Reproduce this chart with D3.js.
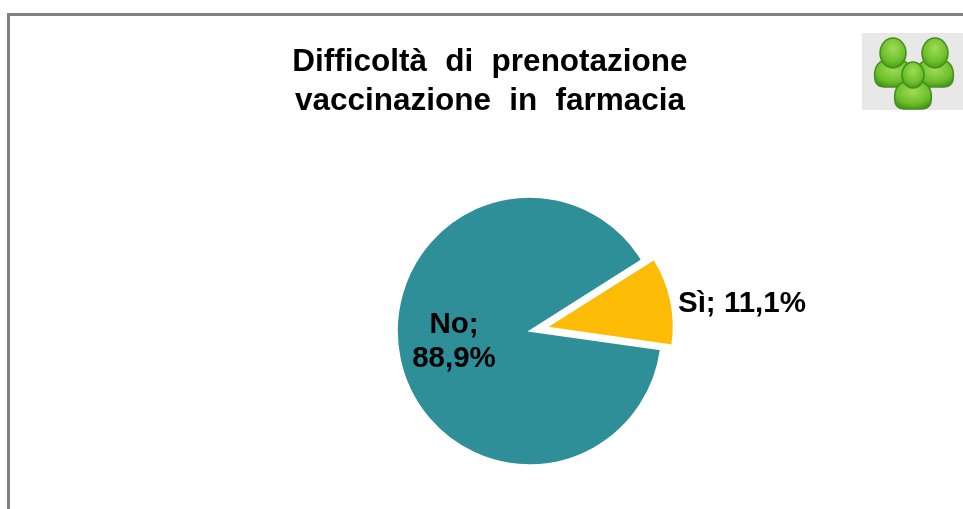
<!DOCTYPE html>
<html>
<head>
<meta charset="utf-8">
<script src="https://cdn.jsdelivr.net/npm/d3@7"></script>
<style>
  html, body { margin: 0; padding: 0; background: #fff; overflow: hidden; }
  text { font-family: "Liberation Sans", Arial, sans-serif; font-weight: bold; fill: #000; }
</style>
</head>
<body>
<svg id="chart" width="963" height="509" viewBox="0 0 963 509"></svg>
<script>
const categories = ["Sì", "No"];
const values = [11.1, 88.9];
const colors = ["#fcbc05", "#2e8f99"];
const title_lines = ["Difficoltà di prenotazione", "vaccinazione in farmacia"];

const svg = d3.select("#chart");
const defs = svg.append("defs");

// The source is a rescaled screenshot, so text and icon get a slight blur
defs.append("filter").attr("id", "soft").append("feGaussianBlur").attr("stdDeviation", 0.7);
defs.append("filter").attr("id", "soft-text").append("feGaussianBlur").attr("stdDeviation", 0.4);

// Frame, only top and left are inside the crop
svg.append("path")
    .attr("d", "M8.5,509V14.5H963")
    .attr("fill", "none")
    .attr("stroke", "#808080")
    .attr("stroke-width", 3);

// Title
svg.append("g")
    .attr("filter", "url(#soft-text)")
    .selectAll("text")
    .data(title_lines)
    .enter().append("text")
    .attr("x", 490)
    .attr("y", (d, i) => 71 + i * 39)
    .attr("text-anchor", "middle")
    .attr("font-size", 31.5)
    .attr("word-spacing", 9.5)
    .text(d => d);

// Pie
const cx = 529.5, cy = 331, radius = 134, gold_radius = 128.5, explode = 17.5;
const pie = d3.pie()
    .value(d => d.value)
    .sort(null)
    .startAngle(58 * Math.PI / 180)
    .endAngle(418 * Math.PI / 180);
const slices = pie(categories.map((c, i) => ({ name: c, value: values[i], color: colors[i] })));

const pie_g = svg.append("g").attr("transform", `translate(${cx},${cy}) scale(0.988,1)`);
pie_g.selectAll("path")
    .data(slices)
    .enter().append("path")
    .attr("d", d => d3.arc()
        .innerRadius(0)
        .outerRadius(d.data.name === "Sì" ? gold_radius : radius)(d))
    .attr("fill", d => d.data.color)
    .attr("stroke", "#fff")
    .attr("stroke-width", 1.5)
    .attr("transform", d => {
        if (d.data.name !== "Sì") return null;
        const mid = (d.startAngle + d.endAngle) / 2;
        return `translate(${explode * Math.sin(mid)},${-explode * Math.cos(mid)})`;
    });

// Data labels
const fmt = v => String(v.toFixed(1)).replace(".", ",") + "%";
const labels = svg.append("g").attr("filter", "url(#soft-text)");
labels.append("text")
    .attr("x", 678).attr("y", 312)
    .attr("font-size", 29.5)
    .text(`${categories[0]}; ${fmt(values[0])}`);
const no_label = labels.append("text").attr("text-anchor", "middle").attr("font-size", 29.5);
no_label.append("tspan").attr("x", 454).attr("y", 333).text(`${categories[1]};`);
no_label.append("tspan").attr("x", 454).attr("y", 367).text(fmt(values[1]));

// Users icon
const body_grad = defs.append("radialGradient")
    .attr("id", "icon-body").attr("cx", "50%").attr("cy", "35%").attr("r", "70%");
body_grad.append("stop").attr("offset", "0%").attr("stop-color", "#a0dc55");
body_grad.append("stop").attr("offset", "65%").attr("stop-color", "#6cbf2a");
body_grad.append("stop").attr("offset", "100%").attr("stop-color", "#3f8f18");

const icon = svg.append("g");
icon.append("rect")
    .attr("x", 862).attr("y", 33)
    .attr("width", 101).attr("height", 77)
    .attr("fill", "#e9e8e8");

const person_g = icon.append("g").attr("filter", "url(#soft)");
function person(x, y, head_rx, head_ry) {
    const g = person_g.append("g").attr("transform", `translate(${x},${y})`);
    g.append("path")
        .attr("d", "M-18,27C-20,14 -14,8 -8,7L8,7C14,8 20,14 18,27C16,35 10,34 0,34C-10,34 -16,35 -18,27Z")
        .attr("fill", "url(#icon-body)")
        .attr("stroke", "#458f1b")
        .attr("stroke-width", 1.5);
    g.append("ellipse")
        .attr("cx", 0).attr("cy", 0)
        .attr("rx", head_rx).attr("ry", head_ry)
        .attr("fill", "url(#icon-body)")
        .attr("stroke", "#458f1b")
        .attr("stroke-width", 1.5);
}
person(893, 53, 13, 15);
person(935, 53, 13, 15);
person(913, 75, 11, 13);
</script>
</body>
</html>
